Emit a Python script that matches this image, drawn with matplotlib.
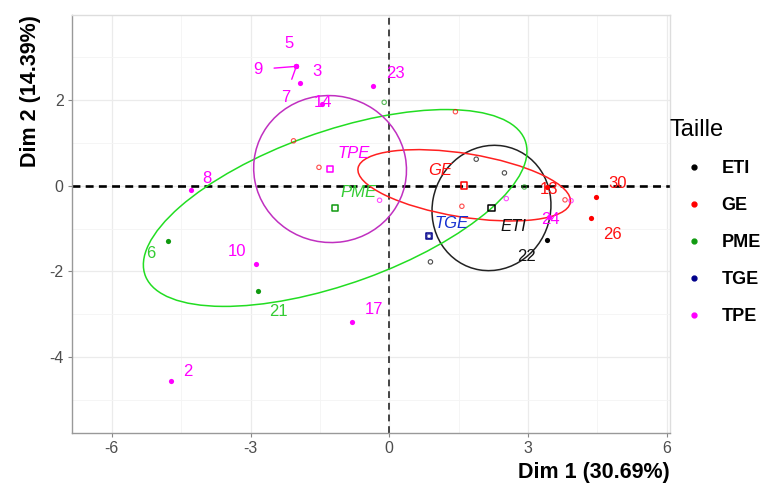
import numpy as np
import matplotlib
matplotlib.use('Agg')
import matplotlib.pyplot as plt
from matplotlib.patches import Ellipse
from matplotlib.lines import Line2D

plt.rcParams['font.family'] = ['Liberation Sans', 'DejaVu Sans']
plt.rcParams['axes.unicode_minus'] = False

# individuals (Dim 1, Dim 2), group and label ('' = no label)
ind_x = [-2.01, -2.01, -2.01, -1.94, -0.36, -1.45, -4.28, -2.88, -0.81, -4.72, -0.21, 2.53, 3.45, 3.93,
         -2.07, -1.52, 1.43, 1.57, 3.41, 3.80, 4.46, 4.37,
         -4.78, -2.83, -0.11, 2.92,
         1.88, 2.49, 0.89, 3.41,
         0.86]
ind_y = [2.79, 2.79, 2.79, 2.39, 2.34, 1.91, -0.09, -1.84, -3.19, -4.56, -0.34, -0.30, -0.72, -0.35,
         1.05, 0.43, 1.73, -0.48, -0.03, -0.33, -0.26, -0.75,
         -1.30, -2.47, 1.95, -0.03,
         0.62, 0.30, -1.78, -1.27,
         -1.18]
ind_group = ['TPE'] * 14 + ['GE'] * 8 + ['PME'] * 4 + ['ETI'] * 4 + ['TGE']
ind_label = ['5', '9', '7', '3', '23', '14', '8', '10', '17', '2', '', '', '24', '',
             '', '', '', '', '13', '', '30', '26',
             '6', '21', '', '',
             '', '', '', '22',
             '']

# group means
groups = ['ETI', 'GE', 'PME', 'TGE', 'TPE']
mean_x = [2.21, 1.62, -1.17, 0.86, -1.28]
mean_y = [-0.52, 0.01, -0.52, -1.18, 0.39]

# ellipses: semi axes and angle (deg), None for TGE
ell_a = [1.47, 2.33, 4.40, None, 1.72]
ell_b = [1.28, 0.74, 1.77, None, 1.65]
ell_angle = [80, -10, 21.4, None, 100]

pt_colors = {'ETI': 'black', 'GE': '#FF0000', 'PME': '#109A10', 'TGE': '#00008B', 'TPE': '#FF00FF'}
txt_colors = {'ETI': '#111111', 'GE': '#FF1010', 'PME': '#33CC33', 'TGE': '#1530D0', 'TPE': '#FF00FF'}
ell_colors = {'ETI': '#222222', 'GE': '#FF2020', 'PME': '#22DD22', 'TPE': '#C030C0'}

# label offsets in pixels (layout)
lab_off = {'5': (-7, 23), '9': (-38, -3), '7': (-11, -31), '3': (17, 12), '23': (23, 12),
           '14': (1, 2), '8': (16, 11), '10': (-19, 13), '17': (22, 13), '2': (17, 9),
           '24': (2, -3), '13': (2, -2), '30': (22, 13), '26': (21, -17), '6': (-17, -12),
           '21': (20, -20), '22': (-20, -16)}
mean_off = {'ETI': (22, -19), 'GE': (-24, 15), 'PME': (23, 15), 'TGE': (23, 13), 'TPE': (24, 16)}

fig = plt.figure(figsize=(7.71, 4.91), dpi=100)
ax = fig.add_axes([0.0934, 0.1181, 0.7756, 0.8513])

ax.set_xlim(-6.86, 6.07)
ax.set_ylim(-5.78, 3.99)
ax.set_xticks([-6, -3, 0, 3, 6])
ax.set_yticks([-4, -2, 0, 2])
ax.set_xticks([-4.5, -1.5, 1.5, 4.5], minor=True)
ax.set_yticks([-5, -3, -1, 1, 3], minor=True)
ax.grid(True, which='major', color='#EBEBEB', lw=0.9, zorder=0)
ax.grid(True, which='minor', color='#F4F4F4', lw=0.6, zorder=0)
ax.set_axisbelow(True)
ax.tick_params(which='minor', length=0)
ax.tick_params(which='major', length=3, color='#888888', labelsize=11.5, labelcolor='#4D4D4D', pad=3)
for s in ['top', 'right']:
    ax.spines[s].set_color('#DDDDDD')
for s in ['left', 'bottom']:
    ax.spines[s].set_color('#999999')
for s in ax.spines.values():
    s.set_linewidth(1.0)

ax.axhline(0, color='black', lw=1.9, ls=(0, (3, 2)), zorder=2)
ax.axvline(0, color='#444444', lw=1.4, ls=(0, (3.5, 2.5)), zorder=2)

# ellipses
for g, cx, cy, a, b, ang in zip(groups, mean_x, mean_y, ell_a, ell_b, ell_angle):
    if a is None:
        continue
    ax.add_patch(Ellipse((cx, cy), 2 * a, 2 * b, angle=ang, fill=False,
                         edgecolor=ell_colors[g], lw=1.1, zorder=3))

# individuals
for x, y, g, lab in zip(ind_x, ind_y, ind_group, ind_label):
    if lab:
        ax.scatter(x, y, s=14, color=pt_colors[g], zorder=4, linewidths=0)
        dx, dy = lab_off[lab]
        if lab in ('9', '7'):
            ax.annotate(lab, (x, y), xytext=(dx, dy), textcoords='offset pixels',
                        color=txt_colors[g], fontsize=12, ha='center', va='center', zorder=5,
                        arrowprops=dict(arrowstyle='-', color=txt_colors[g], lw=1.0,
                                        shrinkA=6, shrinkB=1))
        else:
            ax.annotate(lab, (x, y), xytext=(dx, dy), textcoords='offset pixels',
                        color=txt_colors[g], fontsize=12, ha='center', va='center', zorder=5)
    else:
        ax.scatter(x, y, s=10, facecolor='none', edgecolor=pt_colors[g], alpha=0.7,
                   linewidths=0.8, zorder=4)

# group means
for g, x, y in zip(groups, mean_x, mean_y):
    ax.scatter(x, y, s=22, marker='s', facecolor='none', edgecolor=pt_colors[g],
               linewidths=1.1, zorder=5)
    dx, dy = mean_off[g]
    ax.annotate(g, (x, y), xytext=(dx, dy), textcoords='offset pixels', color=txt_colors[g],
                fontsize=12, fontstyle='italic', ha='center', va='center', zorder=5)

ax.set_xlabel('Dim 1 (30.69%)', loc='right', fontsize=15.5, fontweight='bold', labelpad=4)
ax.set_ylabel('Dim 2 (14.39%)', loc='top', fontsize=15.5, fontweight='bold', labelpad=6)

handles = [Line2D([], [], ls='none', marker='o', markersize=3.5, color=pt_colors[g]) for g in groups]
leg = fig.legend(handles, groups, title='Taille', loc='upper left',
                 bbox_to_anchor=(0.856, 0.777), frameon=False, handlelength=2.8,
                 handletextpad=0.1, labelspacing=1.1, borderpad=0,
                 prop={'size': 13, 'weight': 'bold'}, title_fontsize=17, alignment='left')

fig.savefig('out.png', dpi=100)
